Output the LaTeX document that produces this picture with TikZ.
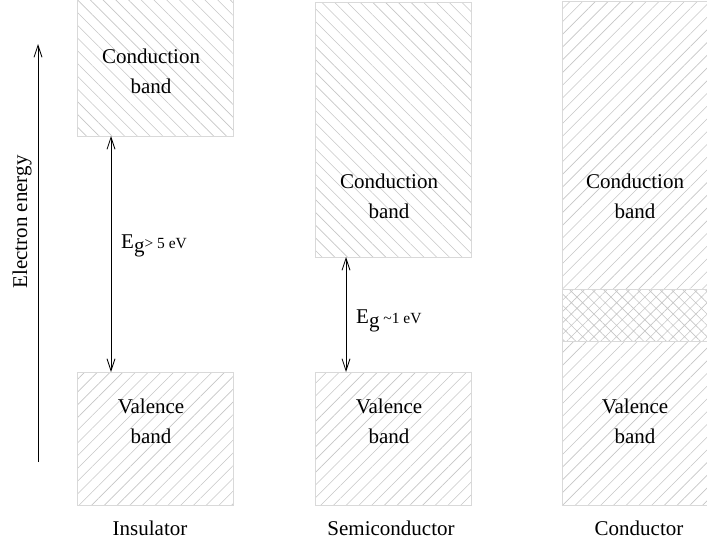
\documentclass[tikz,border=0pt]{standalone}
\usepackage{fontspec}
\setmainfont{Liberation Serif}
\usetikzlibrary{positioning, arrows.meta, patterns.meta}

\begin{document}
\begin{tikzpicture}[
  x=1pt, y=-1pt,
  font=\fontsize{21}{30}\selectfont,
  band/.style={draw=gray!30, line width=0.8pt, inner sep=0pt,
               minimum width=156pt, outer sep=0pt},
  upper/.style={band, pattern={Lines[angle=-45, distance=9pt, line width=0.6pt]},
                pattern color=gray!45},
  lower/.style={band, pattern={Lines[angle=45, distance=9pt, line width=0.6pt]},
                pattern color=gray!45},
  mixed/.style={band, pattern={Hatch[angle=45, distance=8pt, line width=0.6pt]},
                pattern color=gray!45},
  lbl/.style={align=center, inner sep=0pt},
  gap/.style={{Straight Barb[length=12pt, width=8pt]}-{Straight Barb[length=12pt, width=8pt]},
              line width=0.8pt},
  axis/.style={-{Straight Barb[length=12pt, width=8pt]}, line width=0.8pt}
]
\useasboundingbox (0,0) rectangle (707,546);
\clip (0,0) rectangle (707,546);

% insulator
\node[upper, minimum height=138pt] (icb) at (155,67) {};
\node[lower, minimum height=133pt] (ivb) at (155,438.5) {};
% semiconductor
\node[upper, minimum height=255pt] (scb) at (393,129.5) {};
\node[lower, minimum height=133pt] (svb) at (393,438.5) {};
% conductor
\node[lower, minimum height=288pt] (ccb) at (640,145) {};
\node[mixed, minimum height=52pt, below=0pt of ccb] (cov) {};
\node[lower, minimum height=164pt, below=0pt of cov] (cvb) {};

% band labels
\node[lbl] (icbl) at (151,71)  {Conduction\\band};
\node[lbl] (ivbl) at (151,421) {Valence\\band};
\node[lbl] (scbl) at (389,196) {Conduction\\band};
\node[lbl] (svbl) at (389,421) {Valence\\band};
\node[lbl] (ccbl) at (635,196) {Conduction\\band};
\node[lbl] (cvbl) at (635,421) {Valence\\band};

% gaps
\draw[gap] ([xshift=-44pt]icb.south) -- ([xshift=-44pt]ivb.north);
\node[anchor=base west, inner sep=0pt] (igap) at (121,248)
  {E\raisebox{-4pt}{g}{\fontsize{15.5}{18}\selectfont> 5 eV}};
\draw[gap] ([xshift=-47pt]scb.south) -- ([xshift=-47pt]svb.north);
\node[anchor=base west, inner sep=0pt] (sgap) at (356,323)
  {E\raisebox{-4pt}{g}{\fontsize{15.5}{18}\selectfont\ \textasciitilde1 eV}};

% energy axis
\coordinate (e0) at (38,462);
\coordinate (e1) at (38,44);
\draw[axis] (e0) -- (e1);
\node[rotate=90, inner sep=0pt] (elab) at (22,222) {Electron energy};

% material names
\node (ins) at (150,528) {Insulator};
\node (sem) at (391,528) {Semiconductor};
\node (con) at (639,528) {Conductor};
\end{tikzpicture}
\end{document}
